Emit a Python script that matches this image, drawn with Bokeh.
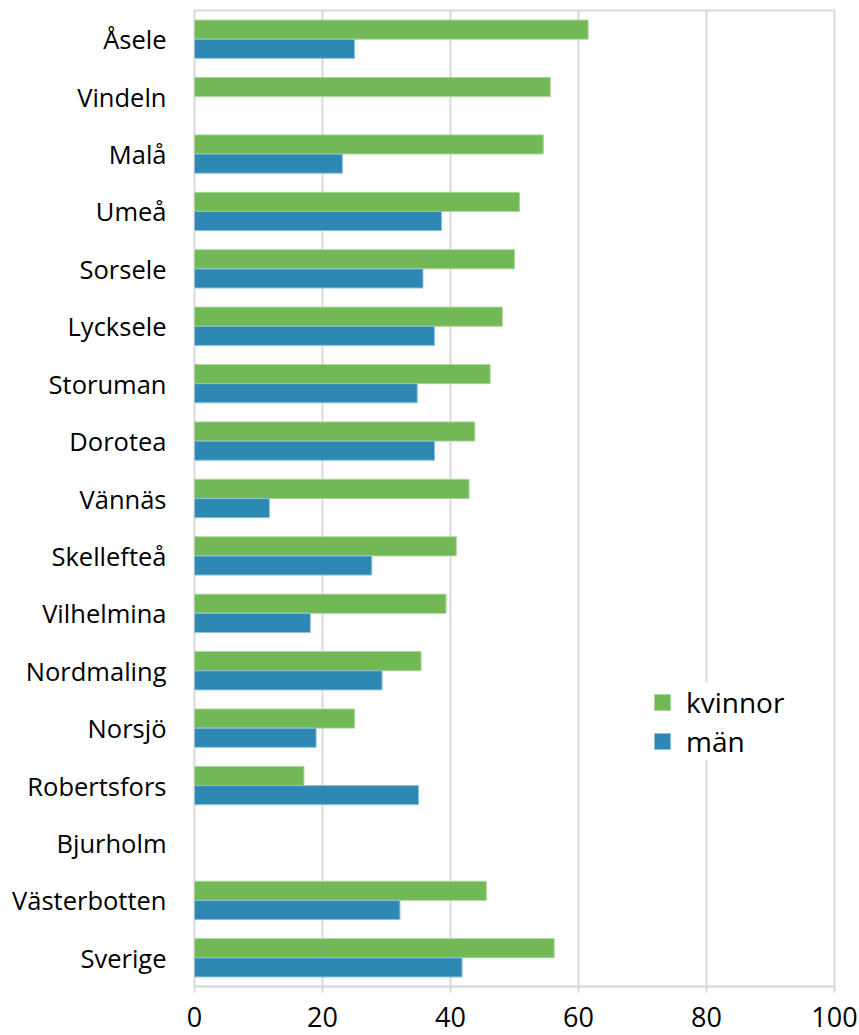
from bokeh.plotting import figure
from bokeh.models import FactorRange, Range1d, Legend, LegendItem, ColumnDataSource, FixedTicker
from bokeh.transform import dodge
from bokeh.embed import file_html
from bokeh.resources import INLINE

kommuner = ["Åsele", "Vindeln", "Malå", "Umeå", "Sorsele", "Lycksele", "Storuman",
            "Dorotea", "Vännäs", "Skellefteå", "Vilhelmina", "Nordmaling", "Norsjö",
            "Robertsfors", "Bjurholm", "Västerbotten", "Sverige"]
kvinnor = [61.5, 55.6, 54.5, 50.8, 50.0, 48.1, 46.2, 43.8, 42.9, 40.9, 39.3, 35.4,
           25.0, 17.1, None, 45.6, 56.2]
man = [25.0, None, 23.1, 38.6, 35.7, 37.5, 34.8, 37.5, 11.7, 27.7, 18.1, 29.3,
       19.0, 35.0, None, 32.1, 41.8]
x_ticks = [0, 20, 40, 60, 80, 100]

GREEN = "#72B856"
BLUE = "#2E88B4"

src_k = ColumnDataSource(dict(
    kommun=[k for k, v in zip(kommuner, kvinnor) if v is not None],
    val=[v for v in kvinnor if v is not None]))
src_m = ColumnDataSource(dict(
    kommun=[k for k, v in zip(kommuner, man) if v is not None],
    val=[v for v in man if v is not None]))

p = figure(width=859, height=1035, output_backend="svg", toolbar_location=None,
           y_range=FactorRange(factors=list(reversed(kommuner)), range_padding=0),
           x_range=Range1d(0, 100),
           min_border_left=194, min_border_right=25, min_border_top=10, min_border_bottom=49)

rk = p.hbar(y=dodge("kommun", 0.167, range=p.y_range), right="val", left=0, height=0.333,
            source=src_k, fill_color=GREEN, line_color="#A9D69A", line_width=1)
rm = p.hbar(y=dodge("kommun", -0.167, range=p.y_range), right="val", left=0, height=0.333,
            source=src_m, fill_color=BLUE, line_color="#8DC0DB", line_width=1)

p.outline_line_color = "#D9D9D9"
p.outline_line_width = 2
p.ygrid.grid_line_color = None
p.xgrid.grid_line_color = "#D9D9D9"
p.xgrid.grid_line_width = 2
p.xgrid.ticker = FixedTicker(ticks=x_ticks)

p.xaxis.ticker = FixedTicker(ticks=x_ticks)
p.xaxis.axis_line_color = "#D9D9D9"
p.xaxis.axis_line_width = 2
p.xaxis.major_tick_line_color = "#D9D9D9"
p.xaxis.major_tick_line_width = 2
p.xaxis.major_tick_out = 6
p.xaxis.major_tick_in = 0
p.xaxis.minor_tick_line_color = None
p.xaxis.major_label_text_font = "Open Sans"
p.xaxis.major_label_text_font_size = "27px"
p.xaxis.major_label_text_color = "#000000"
p.xaxis.major_label_standoff = 14

p.yaxis.axis_line_color = None
p.yaxis.major_tick_line_color = None
p.yaxis.minor_tick_line_color = None
p.yaxis.major_label_text_font = "Open Sans"
p.yaxis.major_label_text_font_size = "25.5px"
p.yaxis.major_label_text_color = "#000000"
p.yaxis.major_label_standoff = 22

legend = Legend(items=[LegendItem(label="kvinnor", renderers=[rk]),
                       LegendItem(label="män", renderers=[rm])],
                location=(458, 226))
legend.label_text_font = "Open Sans"
legend.label_text_font_size = "28px"
legend.label_text_color = "#000000"
legend.glyph_width = 20
legend.glyph_height = 20
legend.spacing = 1
legend.padding = 10
legend.label_standoff = 14
legend.border_line_color = None
legend.background_fill_color = "white"
legend.background_fill_alpha = 1
p.add_layout(legend)

open("out.html", "w").write(file_html(p, INLINE))
